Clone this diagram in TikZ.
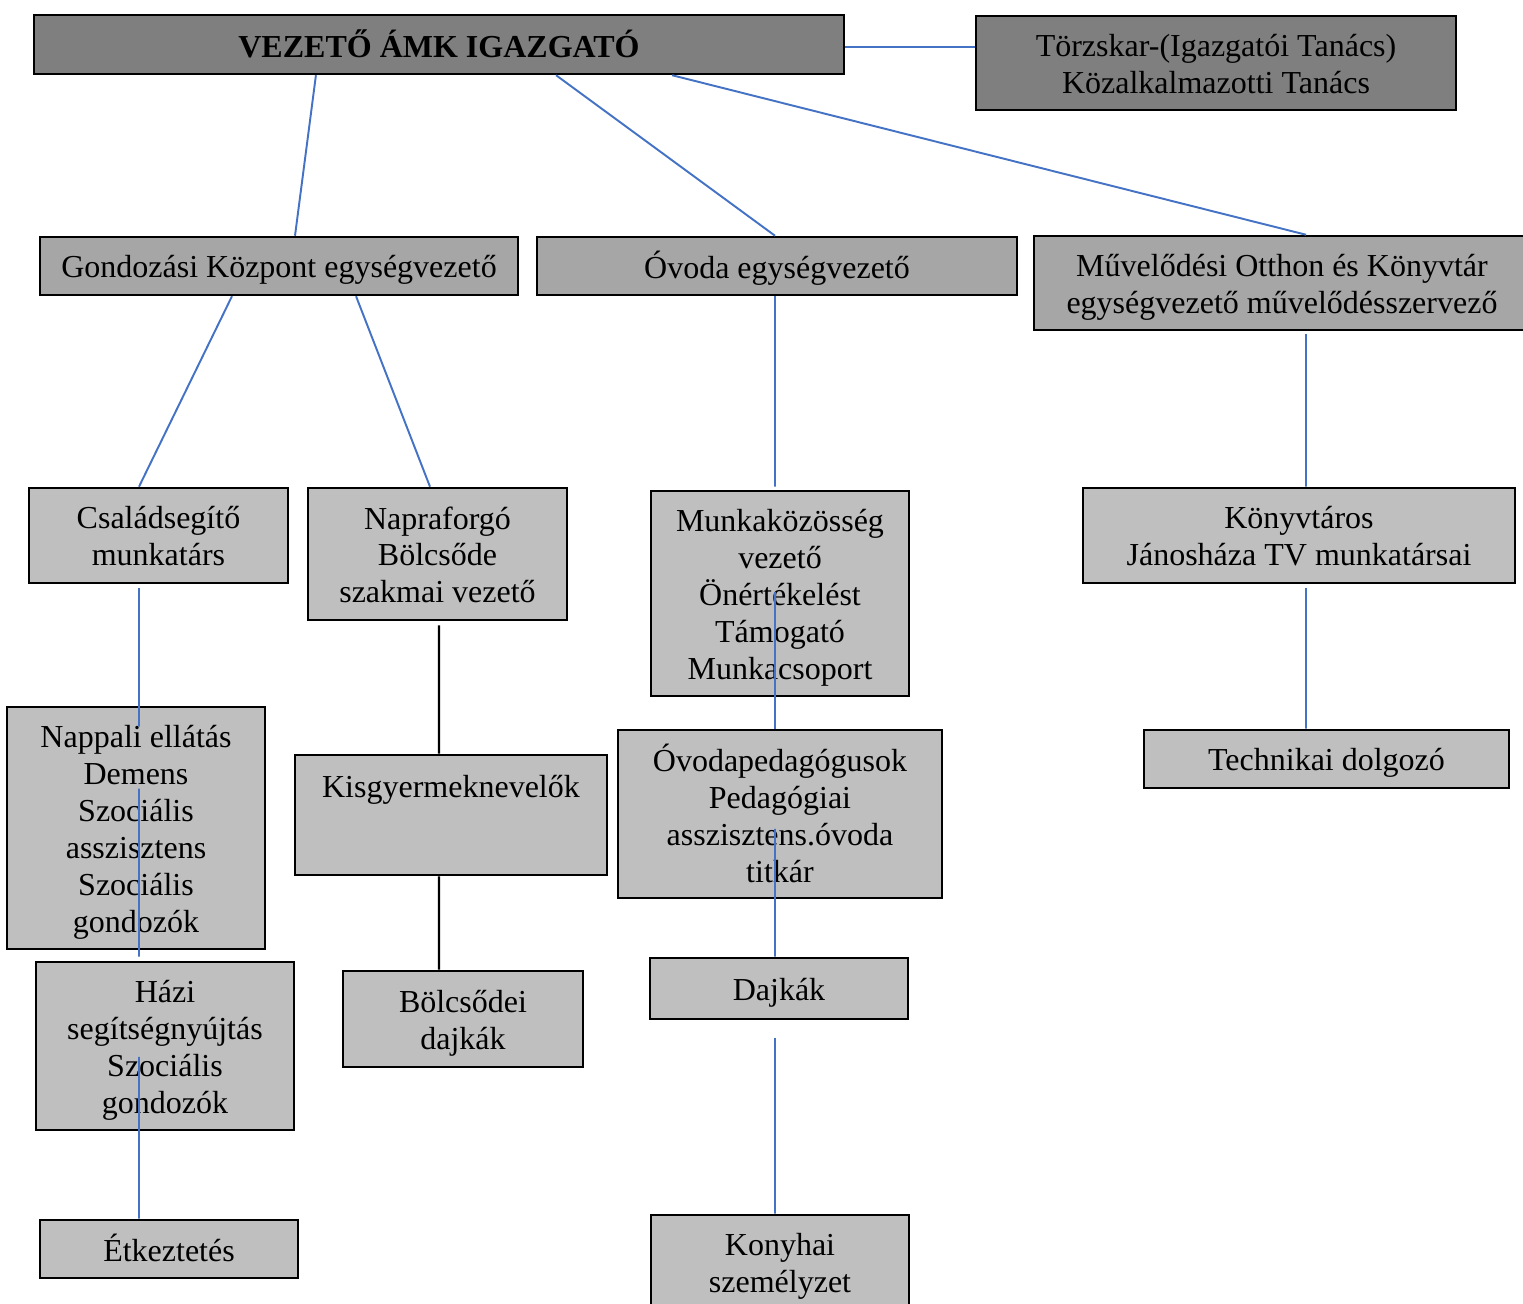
\documentclass[tikz,border=0pt]{standalone}
\usepackage{fontspec}
\setmainfont{Liberation Serif}
\definecolor{boxdark}{HTML}{7F7F7F}
\definecolor{boxmid}{HTML}{A6A6A6}
\definecolor{boxlight}{HTML}{BFBFBF}
\definecolor{linkblue}{HTML}{4472C4}
\newcommand{\boxtext}[1]{\raisebox{-1.3pt}[\height][\depth]{\begin{tabular}{@{}c@{}}#1\end{tabular}}}
\begin{document}
\begin{tikzpicture}[x=0.01cm,y=-0.01cm,
        box/.style={draw=black,line width=0.7pt,inner sep=0pt,align=center,font=\fontsize{9.1}{10.5}\selectfont},
        dark/.style={box,fill=boxdark},
        mid/.style={box,fill=boxmid},
        light/.style={box,fill=boxlight},
        link/.style={linkblue,line width=0.55pt},
        blink/.style={black,line width=0.7pt}]
    \useasboundingbox (0,0) rectangle (1523,1304);
    \node[dark,minimum width=8.1cm,minimum height=0.59cm,font=\fontsize{9.1}{10.5}\selectfont\bfseries] (top) at (439,44.5) {\boxtext{VEZETŐ ÁMK IGAZGATÓ}};
    \node[dark,minimum width=4.8cm,minimum height=0.94cm] (tzs) at (1216,63) {\boxtext{Törzskar-(Igazgatói Tanács)\\Közalkalmazotti Tanács}};
    \node[mid,minimum width=4.78cm,minimum height=0.58cm] (gond) at (279,266) {\boxtext{Gondozási Központ egységvezető}};
    \node[mid,minimum width=4.8cm,minimum height=0.58cm] (ovoda) at (777,266) {\boxtext{Óvoda egységvezető}};
    \node[mid,minimum width=4.96cm,minimum height=0.94cm] (muv) at (1282,283) {\boxtext{Művelődési Otthon és Könyvtár\\egységvezető művelődésszervező}};
    \node[light,minimum width=2.59cm,minimum height=0.95cm] (csal) at (158.5,535.5) {\boxtext{Családsegítő\\munkatárs}};
    \node[light,minimum width=2.59cm,minimum height=1.32cm] (napr) at (437.5,554) {\boxtext{Napraforgó\\Bölcsőde\\szakmai vezető}};
    \node[light,minimum width=2.58cm,minimum height=2.05cm] (munk) at (780,593.5) {\boxtext{Munkaközösség\\vezető\\Önértékelést\\Támogató\\Munkacsoport}};
    \node[light,minimum width=4.32cm,minimum height=0.95cm] (konyv) at (1299,535.5) {\boxtext{Könyvtáros\\Jánosháza TV munkatársai}};
    \node[light,minimum width=2.58cm,minimum height=2.42cm] (napp) at (136,828) {\boxtext{Nappali ellátás\\Demens\\Szociális\\asszisztens\\Szociális\\gondozók}};
    \node[light,minimum width=3.12cm,minimum height=1.2cm,text height=0.43cm,text depth=0.77cm] (kisgy) at (451,815) {Kisgyermeknevelők};
    \node[light,minimum width=3.24cm,minimum height=1.68cm] (ovped) at (780,814) {\boxtext{Óvodapedagógusok\\Pedagógiai\\asszisztens.óvoda\\titkár}};
    \node[light,minimum width=3.65cm,minimum height=0.58cm] (tech) at (1326.5,759) {\boxtext{Technikai dolgozó}};
    \node[light,minimum width=2.58cm,minimum height=1.68cm] (hazi) at (165,1046) {\boxtext{Házi\\segítségnyújtás\\Szociális\\gondozók}};
    \node[light,minimum width=2.4cm,minimum height=0.96cm] (bdajk) at (463,1019) {\boxtext{Bölcsődei\\dajkák}};
    \node[light,minimum width=2.58cm,minimum height=0.61cm] (dajk) at (779,988.5) {\boxtext{Dajkák}};
    \node[light,minimum width=2.58cm,minimum height=0.58cm] (etk) at (169,1249) {\boxtext{Étkeztetés}};
    \node[light,minimum width=2.58cm,minimum height=0.95cm] (kony) at (780,1262.5) {\boxtext{Konyhai\\személyzet}};
    \draw[link] ([yshift=-0.025cm]top.east) -- ([yshift=-0.025cm]top.east -| tzs.west);
    \draw[link] ([xshift=-1.23cm]top.south) -- ([xshift=0.16cm]gond.north);
    \draw[link] ([xshift=1.17cm]top.south) -- ([xshift=-0.02cm]ovoda.north);
    \draw[link] ([xshift=2.33cm]top.south) -- ([xshift=0.24cm]muv.north);
    \draw[link] ([xshift=-0.47cm]gond.south) -- ([xshift=-0.195cm]csal.north);
    \draw[link] ([xshift=0.77cm]gond.south) -- ([xshift=-0.075cm]napr.north);
    \draw[link] ([xshift=-0.02cm]ovoda.south) -- ([xshift=-0.05cm,yshift=0.03cm]munk.north);
    \draw[link] ([xshift=0.24cm,yshift=-0.03cm]muv.south) -- ([xshift=0.07cm]konyv.north);
    \draw[link] ([xshift=-0.195cm,yshift=-0.04cm]csal.south) -- ([xshift=0.03cm,yshift=-0.21cm]napp.north);
    \draw[link] ([xshift=0.03cm,yshift=-0.83cm]napp.north) -- ([xshift=-0.26cm,yshift=0.04cm]hazi.north);
    \draw[link] ([xshift=-0.26cm,yshift=-0.96cm]hazi.north) -- ([xshift=-0.30cm]etk.north);
    \draw[link] ([xshift=-0.05cm,yshift=-1.02cm]munk.north) -- ([xshift=-0.05cm]ovped.north);
    \draw[link] ([xshift=-0.05cm,yshift=-1.0cm]ovped.north) -- ([xshift=-0.04cm]dajk.north);
    \draw[link] ([xshift=-0.04cm,yshift=-0.18cm]dajk.south) -- ([xshift=-0.05cm]kony.north);
    \draw[link] ([xshift=0.07cm,yshift=-0.04cm]konyv.south) -- ([xshift=-0.205cm]tech.north);
    \draw[blink] ([xshift=0.015cm,yshift=-0.04cm]napr.south) -- ([xshift=-0.12cm]kisgy.north);
    \draw[blink] ([xshift=-0.12cm]kisgy.south) -- ([xshift=-0.24cm]bdajk.north);
\end{tikzpicture}
\end{document}
